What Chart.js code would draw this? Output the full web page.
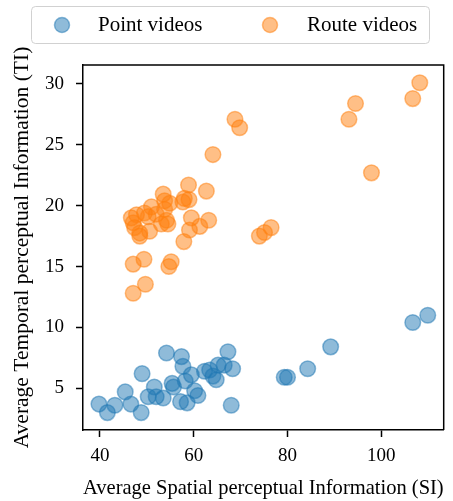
<!DOCTYPE html>
<html>
<head>
<meta charset="utf-8">
<script src="https://cdn.jsdelivr.net/npm/chart.js@4.4.0/dist/chart.umd.min.js"></script>
<style>
  body { margin: 0; background: #fff; }
</style>
</head>
<body>
<canvas id="chart" width="453" height="501"></canvas>
<script>
// point videos (SI, TI)
const pointSI = [39.8, 41.6, 43.2, 45.4, 46.6, 48.8, 49.0, 50.3, 51.6, 52.0, 53.5, 54.2, 55.4, 55.7,
  57.4, 57.7, 57.2, 58.6, 58.2, 59.5, 60.2, 60.9, 62.3, 63.4, 64.1, 64.8, 65.2, 66.5, 67.3, 68.0, 68.3,
  79.3, 80.0, 84.3, 89.2, 106.7, 109.9];
const pointTI = [3.7, 3.0, 3.6, 4.7, 3.7, 3.0, 6.2, 4.3, 5.1, 4.3, 4.2, 7.9, 5.4, 5.1,
  7.6, 6.8, 3.9, 3.8, 5.6, 6.1, 4.8, 4.4, 6.4, 6.5, 6.0, 5.7, 6.9, 6.9, 8.0, 3.6, 6.6,
  5.9, 5.9, 6.6, 8.4, 10.4, 11.0];

// route videos (SI, TI)
const routeSI = [108.2, 106.7, 94.5, 93.1, 97.9, 76.5, 75.1, 74.0, 68.8, 69.8, 64.1, 58.9, 62.7, 53.5,
  58.0, 57.7, 59.0, 53.8, 51.0, 53.8, 47.8, 49.5, 50.3, 54.2, 59.5, 63.2, 47.1, 47.4, 48.5, 50.6,
  48.5, 54.5, 61.3, 59.1, 57.9, 49.4, 47.1, 55.2, 54.7, 49.7, 47.1, 46.7, 53.1, 54.9, 52.0];
const routeTI = [30.1, 28.8, 28.4, 27.1, 22.7, 18.2, 17.8, 17.5, 27.1, 26.4, 24.2, 21.7, 21.2, 20.95,
  20.6, 20.3, 20.5, 20.4, 19.9, 19.7, 19.25, 19.4, 19.1, 18.8, 19.0, 18.8, 18.6, 18.2, 17.75, 17.9,
  17.5, 18.5, 18.3, 18.0, 17.05, 15.6, 15.2, 15.4, 15.0, 13.55, 12.8, 19.0, 18.5, 20.2, 19.3];

const xTicks = [40, 60, 80, 100];
const yTicks = [5, 10, 15, 20, 25, 30];

const serif = "'Liberation Serif', 'Times New Roman', serif";

function toPoints(xs, ys) {
  return xs.map((x, i) => ({ x: x, y: ys[i] }));
}

// frame + legend box drawn on top
const framePlugin = {
  id: 'frame',
  afterDraw(chart) {
    const c = chart.ctx;
    const a = chart.chartArea;
    c.save();
    c.strokeStyle = '#000';
    c.lineWidth = 1.5;
    c.beginPath();
    c.moveTo(a.left, a.top);
    c.lineTo(a.right, a.top);
    c.lineTo(a.right, a.bottom);
    c.stroke();

    // legend
    const bx = 31, by = 6, bw = 398, bh = 37, r = 4;
    c.strokeStyle = 'rgba(204,204,204,0.9)';
    c.lineWidth = 1;
    c.fillStyle = 'rgba(255,255,255,0.8)';
    c.beginPath();
    c.roundRect(bx + 0.5, by + 0.5, bw, bh, r);
    c.fill();
    c.stroke();
    const items = [[62, 98], [270, 307]];
    chart.data.datasets.forEach((ds, i) => {
      const [cx, tx] = items[i];
      c.beginPath();
      c.arc(cx, 25, 7.5, 0, Math.PI * 2);
      c.fillStyle = ds.backgroundColor;
      c.fill();
      c.lineWidth = 1.5;
      c.strokeStyle = ds.borderColor;
      c.stroke();
      c.fillStyle = '#000';
      c.font = "21px " + serif;
      c.textBaseline = 'middle';
      c.fillText(ds.label, tx, 25);
    });
    c.restore();
  }
};

const ctx = document.getElementById("chart").getContext("2d");
const config = {
  type: 'scatter',
  data: {
    datasets: [{
      label: "Point videos",
      data: toPoints(pointSI, pointTI),
      backgroundColor: 'rgba(31,119,180,0.5)',
      borderColor: 'rgba(31,119,180,0.5)',
      borderWidth: 1.5,
      pointRadius: 7.8,
      pointHoverRadius: 7.8
    }, {
      label: "Route videos",
      data: toPoints(routeSI, routeTI),
      backgroundColor: 'rgba(255,127,14,0.5)',
      borderColor: 'rgba(255,127,14,0.5)',
      borderWidth: 1.5,
      pointRadius: 7.8,
      pointHoverRadius: 7.8
    }]
  },
  options: {
    responsive: false,
    animation: false,
    layout: { padding: { top: 65, right: 8, left: 0, bottom: 0 } },
    plugins: {
      legend: { display: false },
      tooltip: { enabled: false }
    },
    scales: {
      x: {
        type: 'linear',
        min: 36.4,
        max: 113.3,
        afterBuildTicks: (s) => { s.ticks = xTicks.map(v => ({ value: v })); },
        afterFit: (s) => { s.height = 71; },
        grid: { drawOnChartArea: false, drawTicks: true, tickLength: 7, tickWidth: 1.5, tickColor: '#000' },
        border: { display: true, color: '#000', width: 1.5 },
        ticks: { color: '#000', font: { family: serif, size: 19 }, padding: 8, maxRotation: 0 },
        title: {
          display: true,
          text: "Average Spatial perceptual Information (SI)",
          color: '#000',
          font: { family: serif, size: 21.5 },
          padding: { top: 0, bottom: 0 }
        }
      },
      y: {
        type: 'linear',
        min: 1.57,
        max: 31.56,
        afterBuildTicks: (s) => { s.ticks = yTicks.map(v => ({ value: v })); },
        afterFit: (s) => { s.width = 83; },
        grid: { drawOnChartArea: false, drawTicks: true, tickLength: 7, tickWidth: 1.5, tickColor: '#000' },
        border: { display: true, color: '#000', width: 1.5 },
        ticks: { color: '#000', font: { family: serif, size: 19 }, padding: 12 },
        title: {
          display: true,
          text: "Average Temporal perceptual Information (TI)",
          color: '#000',
          font: { family: serif, size: 21.5 },
          padding: { top: 9, bottom: 0 }
        }
      }
    }
  },
  plugins: [framePlugin]
};

const chart = new Chart(ctx, config);
</script>
</body>
</html>
